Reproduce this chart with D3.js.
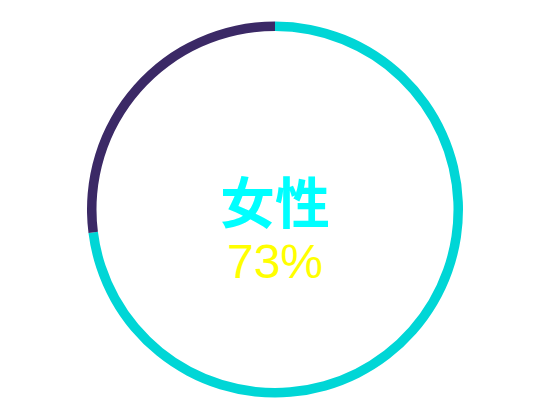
<!DOCTYPE html>
<html>
<head>
    <meta charset="utf-8">
    <script src="https://d3js.org/d3.v7.min.js"></script>
    <style>
        * { margin: 0; padding: 0; }
        body { width: 550px; height: 420px; background: #fff; overflow: hidden; }
    </style>
</head>
<body>
<div id="chart"></div>
<script>
    // shares, share of women first
    let labels = ["女性", "男性"];
    let values = [73, 27];
    let colors = ["#00d6d6", "#3b2966"];

    let width = 550, height = 420;
    let cx = 275, cy = 209.5;
    let outerR = 188, innerR = 178.5;

    let svg = d3.select("#chart").append("svg")
        .attr("width", width)
        .attr("height", height);

    let g = svg.append("g")
        .attr("transform", "translate(" + cx + "," + cy + ")");

    let pie = d3.pie().sort(null).value(d => d);
    let arc = d3.arc().innerRadius(innerR).outerRadius(outerR);

    g.selectAll("path")
        .data(pie(values))
        .enter()
        .append("path")
        .attr("d", arc)
        .attr("fill", (d, i) => colors[i]);

    g.append("text")
        .attr("text-anchor", "middle")
        .attr("y", 13)
        .attr("fill", "#00ffff")
        .style("font-family", "'Noto Sans CJK SC', sans-serif")
        .style("font-weight", "bold")
        .style("font-size", "55px")
        .text(labels[0]);

    g.append("text")
        .attr("text-anchor", "middle")
        .attr("y", 68.5)
        .attr("fill", "#ffff00")
        .style("font-family", "'Liberation Sans', Arial, sans-serif")
        .style("font-size", "48px")
        .text(values[0] + "%");
</script>
</body>
</html>
